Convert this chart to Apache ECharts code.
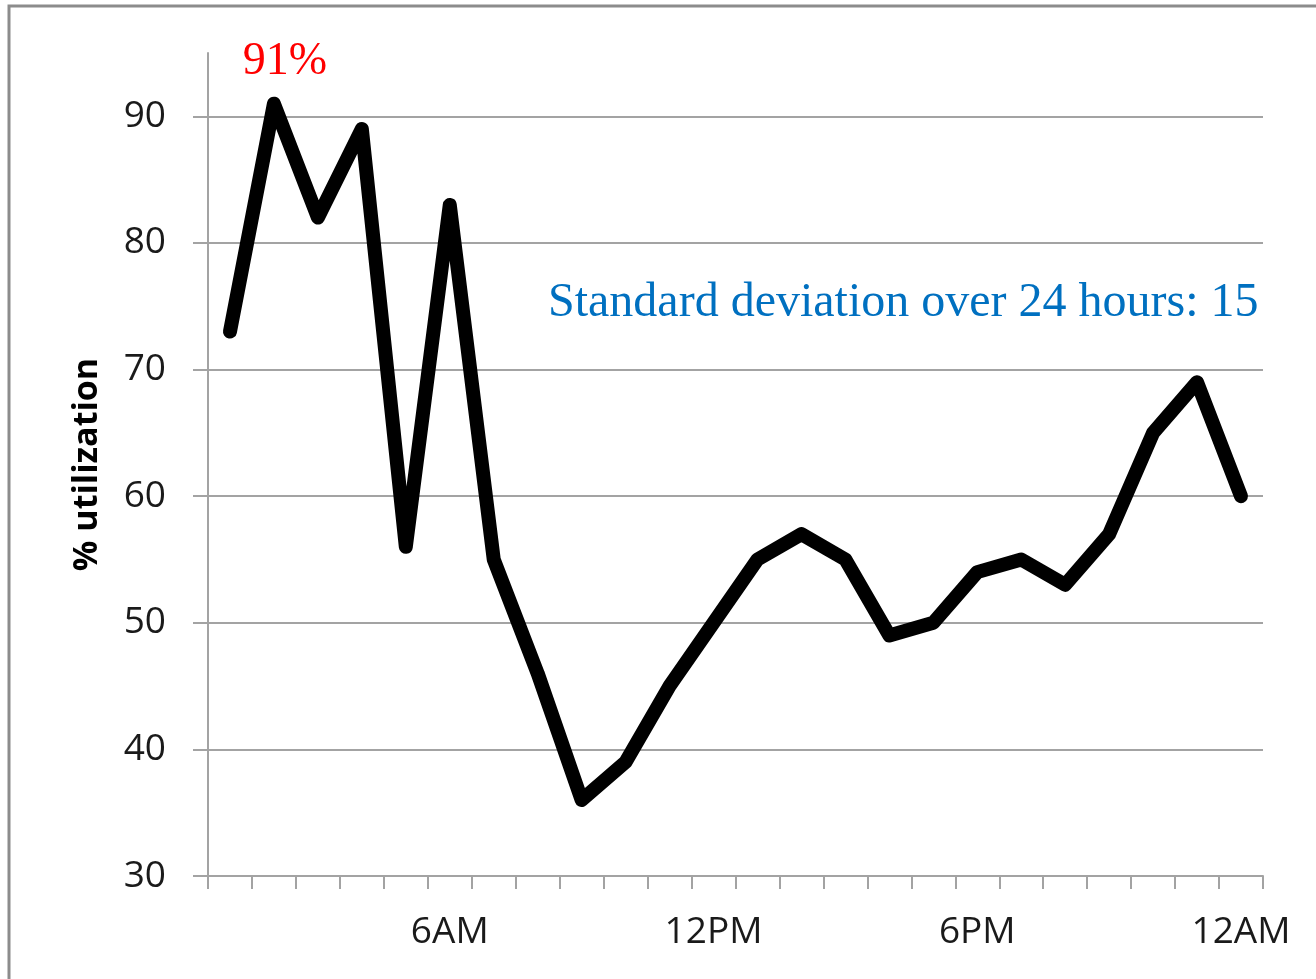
<!DOCTYPE html>
<html>
<head>
<meta charset="utf-8">
<script src="https://cdn.jsdelivr.net/npm/echarts@6/dist/echarts.min.js"></script>
<style>
html,body{margin:0;padding:0;background:#fff;}
#chart{width:1316px;height:979px;}
</style>
</head>
<body>
<div id="chart"></div>
<script>
const hours = ['1AM','2AM','3AM','4AM','5AM','6AM','7AM','8AM','9AM','10AM','11AM','12PM',
               '1PM','2PM','3PM','4PM','5PM','6PM','7PM','8PM','9PM','10PM','11PM','12AM'];
const utilization = [73, 91, 82, 89, 56, 83, 55, 46, 36, 39, 45, 50,
                     55, 57, 55, 49, 50, 54, 55, 53, 57, 65, 69, 60];
const shownHourLabels = ['6AM', '12PM', '6PM', '12AM'];
const yTicks = [30, 40, 50, 60, 70, 80, 90];
const annotationText = 'Standard deviation over 24 hours: 15';

const chart = echarts.init(document.getElementById('chart'), null, {renderer: 'canvas'});
const gray = '#a3a3a3';
chart.setOption({
  animation: false,
  backgroundColor: '#fff',
  graphic: [
    {type: 'rect', shape: {x: 9, y: 6, width: 1400, height: 1100},
     style: {fill: 'none', stroke: '#8c8c8c', lineWidth: 3}, z: 0},
    {type: 'text', left: 548, top: 279,
     style: {text: annotationText, fill: '#0070C0', font: '48px "Liberation Serif"'}, z: 10}
  ],
  grid: {left: 208, right: 53, top: 53, bottom: 103, containLabel: false},
  xAxis: {
    type: 'category',
    data: hours,
    boundaryGap: true,
    axisLine: {lineStyle: {color: gray, width: 2}},
    axisTick: {show: true, length: 13, interval: 0, lineStyle: {color: gray, width: 2}},
    axisLabel: {
      interval: 0,
      margin: 38,
      color: '#1a1a1a',
      fontFamily: 'Open Sans',
      fontSize: 37,
      formatter: v => shownHourLabels.includes(v) ? v : ''
    },
    splitLine: {show: false}
  },
  yAxis: {
    type: 'value',
    min: 30, max: 95, interval: 10,
    name: '% utilization',
    nameLocation: 'middle',
    nameGap: 104,
    nameTextStyle: {fontFamily: 'Open Sans', fontWeight: 'bold', fontSize: 34, color: '#000'},
    axisLine: {show: true, lineStyle: {color: gray, width: 2}},
    axisTick: {show: true, length: 15, customValues: yTicks, lineStyle: {color: gray, width: 2}},
    axisLabel: {customValues: yTicks, margin: 42, color: '#1a1a1a', fontFamily: 'Open Sans', fontSize: 37},
    splitLine: {show: true, showMinLine: false, lineStyle: {color: gray, width: 2}}
  },
  series: [{
    type: 'line',
    data: utilization,
    symbol: 'none',
    lineStyle: {color: '#000', width: 14, cap: 'round', join: 'round'},
    markPoint: {
      data: [{type: 'max'}],
      symbol: 'circle',
      symbolSize: 2,
      itemStyle: {color: 'rgba(0,0,0,0)'},
      label: {show: true, position: 'top', distance: 18, offset: [11, 0],
              formatter: '{c}%', color: '#ff0000', fontFamily: 'Liberation Serif', fontSize: 46}
    },
    z: 5
  }]
});
</script>
</body>
</html>
